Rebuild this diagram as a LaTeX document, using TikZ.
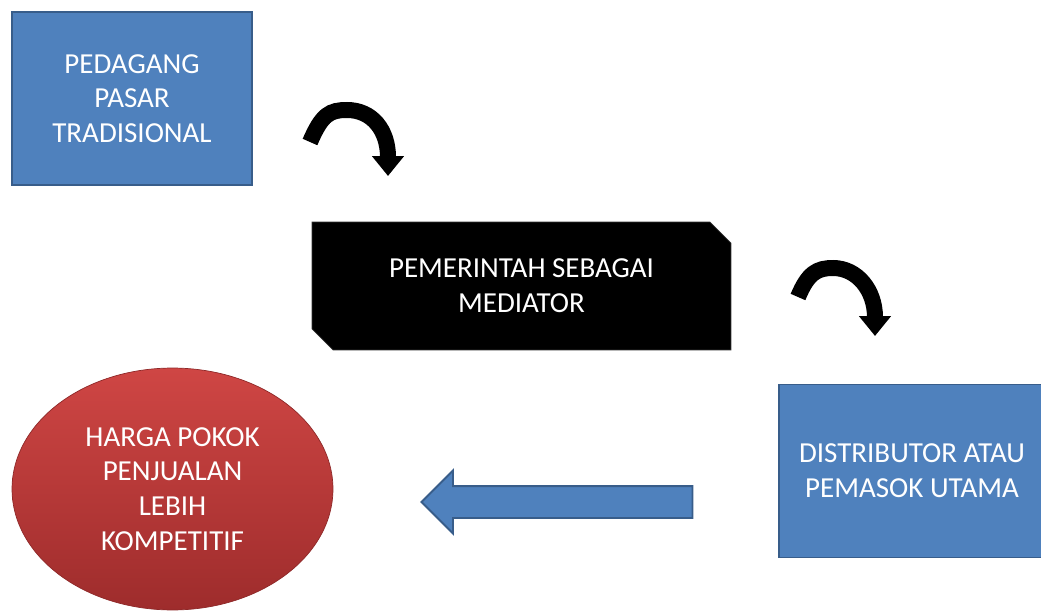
\documentclass[tikz,border=0pt]{standalone}
\usepackage{fontspec}
\setmainfont{Carlito}
\usetikzlibrary{arrows.meta,shapes.geometric,shapes.misc,shapes.arrows}
\definecolor{boxblue}{HTML}{4F81BD}
\definecolor{boxline}{HTML}{385D8A}
\definecolor{redtop}{HTML}{CF4644}
\definecolor{redbot}{HTML}{9E2C2C}

\begin{document}
\begin{tikzpicture}[x=0.02cm, y=-0.02cm,
  box/.style={draw=boxline, line width=1.1pt, fill=boxblue, text=white, font=\fontsize{16.5}{19.8}\selectfont, align=center, minimum width=4.8cm, minimum height=3.46cm, inner sep=0pt},
  mediator/.style={chamfered rectangle, chamfered rectangle corners={north east,south west}, chamfered rectangle xsep=0.21cm, chamfered rectangle ysep=0.21cm, fill=black, draw=black!80, text=white, font=\fontsize{16.5}{19.8}\selectfont, align=center, minimum width=8.38cm, minimum height=2.56cm, inner sep=0pt},
  result/.style={ellipse, top color=redtop, bottom color=redbot, draw=redbot!90!black, thin, text=white, font=\fontsize{16.5}{19.8}\selectfont, align=center, minimum width=6.42cm, minimum height=4.84cm, inner sep=0pt},
  flow/.style={single arrow, shape border rotate=180, fill=boxblue, draw=boxline, line width=1.1pt, minimum height=5.42cm, inner xsep=0pt, inner ysep=0.3cm, single arrow head extend=0.31cm, single arrow tip angle=90},
  turn/.style={line width=0.32cm, -{Triangle[width=0.62cm,length=0.40cm]}}
]
\useasboundingbox (0,0) rectangle (1041,615);

% Boxes
\node[box] (pedagang) at (132,98.5) {PEDAGANG\\PASAR\\TRADISIONAL};
\node[mediator] (pemerintah) at (521.5,286) {PEMERINTAH SEBAGAI\\MEDIATOR};
\node[box, minimum width=5.32cm] (distributor) at (912,471) {DISTRIBUTOR ATAU\\PEMASOK UTAMA};
\node[result] (harga) at (172.5,489) {HARGA POKOK\\PENJUALAN\\LEBIH\\KOMPETITIF};

% Arrows
\coordinate (a1) at (310,142);
\coordinate (b1) at (347,110);
\coordinate (c1) at (388,176);
\coordinate (a2) at (798,297);
\coordinate (b2) at (833,268);
\coordinate (c2) at (875,336);
\draw[turn] (a1) .. controls +(12,-28) and +(-17,0) .. (b1) .. controls +(25,0) and +(0,-46) .. (c1);
\draw[turn] (a2) .. controls +(10,-24) and +(-16,0) .. (b2) .. controls +(24,0) and +(0,-46) .. (c2);
\node[flow] (toharga) at (565,502) {};
\end{tikzpicture}
\end{document}
